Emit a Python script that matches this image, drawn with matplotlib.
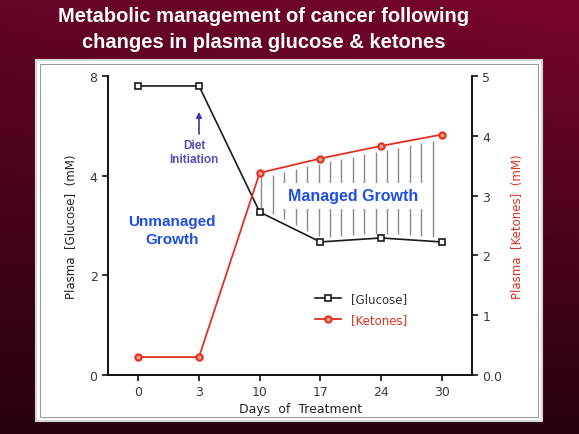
import numpy as np
import matplotlib
matplotlib.use("Agg")
import matplotlib.pyplot as plt
from matplotlib.patches import Rectangle

# data
days = ["0", "3", "10", "17", "24", "30"]
glucose = [7.6, 7.6, 3.27, 2.67, 2.75, 2.67]
ketones = [0.30, 0.30, 3.38, 3.62, 3.83, 4.02]
glucose_ticks = [0, 2, 4, 8]
ketone_ticks = [0, 1, 2, 3, 4, 5]
ketone_tick_labels = ["0.0", "1", "2", "3", "4", "5"]

RED = "#e2301f"
BLUE = "#1f4fe0"

plt.rcParams["font.family"] = ["DejaVu Sans"]

fig = plt.figure(figsize=(5.79, 4.35), dpi=100)

# dark red slide background
bg = fig.add_axes([0, 0, 1, 1])
yy, xx = np.mgrid[0:1:200j, 0:1:200j]
shade = 0.3 + 0.65 * (1 - yy) * (0.75 + 0.25 * xx)
top = np.array([0.50, 0.02, 0.19])
grad = shade[..., None] * top
bg.imshow(grad, extent=[0, 1, 0, 1], aspect="auto", origin="upper")
bg.axis("off")

# white panel
bg.add_patch(Rectangle((36 / 579, 1 - 422 / 435), 506 / 579, 361 / 435,
                       facecolor="white", edgecolor="#d8d8d8", lw=1.5))
bg.add_patch(Rectangle((40 / 579, 1 - 418 / 435), 498 / 579, 353 / 435,
                       facecolor="none", edgecolor="#9a9a9a", lw=0.8))

fig.text(264 / 579, 1 - 16 / 435, "Metabolic management of cancer following",
         ha="center", va="center", color="white", fontsize=14.5,
         fontweight="bold", family="Liberation Sans")
fig.text(264 / 579, 1 - 42 / 435, "changes in plasma glucose & ketones",
         ha="center", va="center", color="white", fontsize=14.5,
         fontweight="bold", family="Liberation Sans")


# glucose axis: 0-4 linear, 4-8 squeezed to half
def fwd(v):
    v = np.asarray(v, dtype=float)
    return np.where(v <= 4, v, 4 + (v - 4) / 2)


def inv(p):
    p = np.asarray(p, dtype=float)
    return np.where(p <= 4, p, 4 + (p - 4) * 2)


ax = fig.add_axes([108 / 579, 1 - 376 / 435, 364 / 579, 299 / 435])
ax.set_facecolor("none")
ax.set_yscale("function", functions=(fwd, inv))
ax.set_ylim(0, 8)
ax.set_xlim(-0.5, 5.5)
x = np.arange(len(days))

ax2 = ax.twinx()
ax2.set_ylim(0, 5)

lg, = ax.plot(x, glucose, color="#1a1a1a", lw=1.2, marker="s", ms=5,
              mfc="white", mec="#1a1a1a", mew=1.2, zorder=5, label="[Glucose]")
lk, = ax2.plot(x, ketones, color=RED, lw=1.3, marker="o", ms=4.5,
               mfc="#f59a88", mec=RED, mew=1.5, zorder=5, label="[Ketones]")

# vertical hatch between the two curves
fig.canvas.draw()
hx = np.linspace(2.03, 4.85, 16)
top_k = np.interp(hx, x, ketones) - 0.08
g_vals = np.interp(hx, x, glucose)
pts = ax.transData.transform(np.column_stack([hx, g_vals]))
bot_k = ax2.transData.inverted().transform(pts)[:, 1] + 0.08
ax2.vlines(hx, bot_k, top_k, color="#8a8a8a", lw=1.0, zorder=2)

ax2.text(3.54, 3.0, "Managed Growth", color=BLUE, fontsize=11.5,
         fontweight="bold", family="Liberation Sans", ha="center", va="center",
         zorder=4, bbox=dict(facecolor="white", edgecolor="none", pad=4))
ax.text(0.56, 2.91, "Unmanaged\nGrowth", color=BLUE, fontsize=11,
        fontweight="bold", family="Liberation Sans", ha="center", va="center",
        linespacing=1.3)
ax.annotate("", xy=(1, 6.56), xytext=(1, 5.67),
            arrowprops=dict(arrowstyle="-|>", color="#3a3aa8", lw=1.2,
                            mutation_scale=8, shrinkA=0, shrinkB=0))
ax.text(0.92, 4.95, "Diet\nInitiation", color="#5050b8", fontsize=8.5,
        fontweight="bold", family="Liberation Sans", ha="center", va="center",
        linespacing=1.2)

for a in (ax, ax2):
    a.spines["top"].set_visible(False)
    for s in a.spines.values():
        s.set_linewidth(1.4)
        s.set_color("#111111")
ax.spines["right"].set_visible(False)
ax2.spines["left"].set_visible(False)
ax2.spines["bottom"].set_visible(False)

ax.set_yticks(glucose_ticks)
ax.set_yticklabels([str(t) for t in glucose_ticks])
ax.set_xticks(x)
ax.set_xticklabels(days)
ax2.set_yticks(ketone_ticks)
ax2.set_yticklabels(ketone_tick_labels)
ax.tick_params(axis="both", labelsize=9, colors="#111111", labelcolor="#3a3a3a",
               length=4, width=1.2)
ax2.tick_params(axis="y", labelsize=9, colors="#111111", labelcolor="#3a3a3a",
                length=4, width=1.2)

ax.set_xlabel("Days  of  Treatment", fontsize=9, color="#222222", labelpad=5)
ax.xaxis.set_label_coords(0.53, -0.09)
ax.set_ylabel("Plasma  [Glucose]  (mM)", fontsize=8.5, color="#222222",
              labelpad=8)
ax2.set_ylabel("Plasma  [Ketones]  (mM)", fontsize=8.5, color=RED, labelpad=6)

leg = ax.legend(handles=[lg, lk], loc="center left",
                bbox_to_anchor=(0.54, 0.22), frameon=False, fontsize=8.5,
                handlelength=2.2, labelspacing=0.7)
leg.get_texts()[0].set_color("#333333")
leg.get_texts()[1].set_color(RED)

fig.savefig("out.png", dpi=100)
